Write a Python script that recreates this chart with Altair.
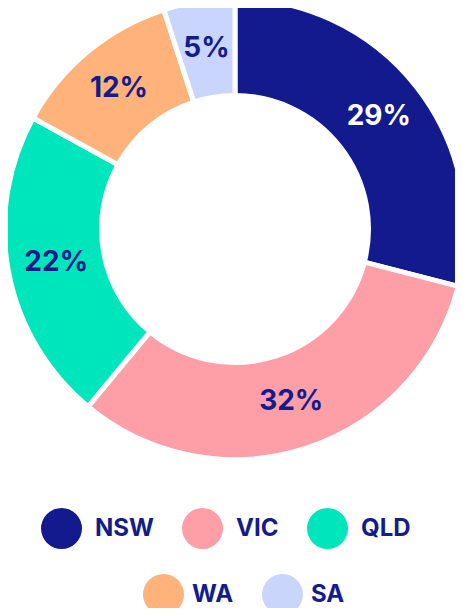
import altair as alt
import pandas as pd

states = ["NSW", "VIC", "QLD", "WA", "SA"]
values = [29, 32, 22, 12, 5]
colors = ["#121A8E", "#FE9EA6", "#00E6BC", "#FFB37B", "#CAD5FE"]
row1 = states[:3]
row2 = states[3:]

NAVY = "#141C8C"
FONT = "Inter"

df = pd.DataFrame({"state": states, "value": values, "order": list(range(len(states)))})

base = (
    alt.Chart(df)
    .transform_window(end="sum(value)", sort=[alt.SortField("order")], frame=[None, 0])
    .transform_calculate(
        start="datum.end - datum.value",
        mid="datum.end - datum.value / 2",
        label="datum.value + '%'",
    )
)

CX, CY = 227, 221
theta_scale = alt.Scale(domain=[0, 100])


def legend(x, y, offset):
    return alt.Legend(
        title=None,
        orient="none",
        legendX=x,
        legendY=y,
        direction="horizontal",
        symbolType="circle",
        symbolSize=1681,
        symbolStrokeWidth=0,
        symbolOpacity=1,
        labelFont=FONT,
        labelFontSize=24,
        labelFontWeight="bold",
        labelColor=NAVY,
        labelOffset=offset,
        columnPadding=28,
        padding=0,
    )


def arcs(domain, rng, lx, ly, offset):
    return (
        base.transform_filter(alt.FieldOneOfPredicate(field="state", oneOf=domain))
        .mark_arc(outerRadius=230.5, innerRadius=133.5, stroke="white", strokeWidth=5)
        .encode(
            theta=alt.Theta("start:Q", stack=None, scale=theta_scale),
            theta2=alt.Theta2("end:Q"),
            color=alt.Color("state:N", scale=alt.Scale(domain=domain, range=rng), legend=legend(lx, ly, offset)),
            x=alt.value(CX),
            y=alt.value(CY),
        )
    )


arcA = arcs(row1, colors[:3], 33, 500, 13)
arcB = arcs(row2, colors[3:], 135, 566, 8)

labels = base.mark_text(
    radius=182, font=FONT, fontSize=28, fontWeight="bold", align="center", baseline="middle"
).encode(
    theta=alt.Theta("mid:Q", stack=None, scale=theta_scale),
    text="label:N",
    color=alt.condition(alt.datum.state == "NSW", alt.value("white"), alt.value(NAVY)),
    x=alt.value(CX),
    y=alt.value(CY),
)

chart = (
    alt.layer(arcA, arcB, labels)
    .resolve_scale(color="independent")
    .properties(width=447, height=600, autosize=alt.AutoSizeParams(type="none"), padding=0)
    .configure_view(stroke=None)
)

chart.save("out.html", embed_options={"renderer": "svg", "actions": False})
